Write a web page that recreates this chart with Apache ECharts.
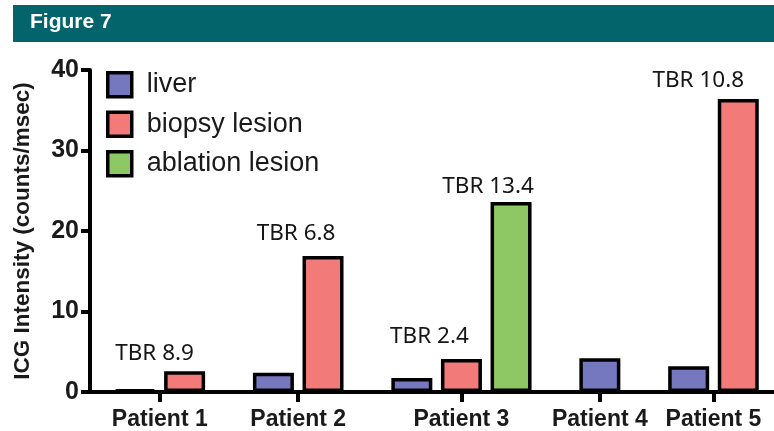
<!DOCTYPE html>
<html>
<head>
<meta charset="utf-8">
<script src="https://cdn.jsdelivr.net/npm/echarts@6/dist/echarts.min.js"></script>
<style>
  html, body { margin: 0; padding: 0; background: #fff; }
  #chart { width: 774px; height: 431px; }
</style>
</head>
<body>
<div id="chart"></div>
<script>
// ---- data ----
const patients = ['Patient 1', 'Patient 2', 'Patient 3', 'Patient 4', 'Patient 5'];
const seriesNames = ['liver', 'biopsy lesion', 'ablation lesion'];
const liver = [0.28, 2.4, 1.74, 4.2, 3.2];
const biopsy = [2.57, 16.9, 4.1, null, 36.4];
const ablation = [null, null, 23.6, null, null];
const biopsyTBR = ['8.9', '6.8', '2.4', null, '10.8'];
const ablationTBR = [null, null, '13.4', null, null];
const yTicks = [0, 10, 20, 30, 40];
const figureTitle = 'Figure 7';
const yTitle = 'ICG Intensity (counts/msec)';

// ---- layout / style ----
const colors = ['#7678bf', '#f27b79', '#8dc864'];
const GROUP_GAP = 1.79;      // distance (in bar pitches) from last bar of a group to first of next
const X_MIN = -0.907, X_MAX = 12.88;
// TBR label shift [dx px, distance px] per patient
const tbrShift = {
  biopsy: [[-30, 6], [-27, 11], [-32, 11], null, [-40, 7]],
  ablation: [null, null, [-23, 4], null, null]
};

const allValues = [liver, biopsy, ablation];
const allTBR = [null, biopsyTBR, ablationTBR];
const allShift = [null, tbrShift.biopsy, tbrShift.ablation];

// compute bar positions on the value x axis
const positions = allValues.map(() => []);
const centers = [];
let cursor = 0;
patients.forEach((p, i) => {
  const present = [];
  allValues.forEach((arr, s) => { if (arr[i] != null) present.push(s); });
  present.forEach((s, j) => { positions[s][i] = cursor + j; });
  centers.push(cursor + (present.length - 1) / 2);
  cursor += (present.length - 1) + GROUP_GAP;
});

const series = allValues.map((arr, s) => {
  const data = [];
  arr.forEach((v, i) => {
    if (v == null) return;
    const item = { value: [positions[s][i], v] };
    const tbr = allTBR[s] ? allTBR[s][i] : null;
    if (tbr != null) {
      const sh = allShift[s][i];
      item.label = {
        show: true,
        position: 'top',
        formatter: 'TBR ' + tbr,
        offset: [sh[0], 0],
        distance: sh[1],
        fontFamily: '"Noto Sans", "Open Sans", sans-serif',
        fontSize: 22.5,
        color: '#161616'
      };
    }
    data.push(item);
  });
  return {
    name: seriesNames[s],
    type: 'bar',
    data: data,
    barWidth: 41,
    barGap: '-100%',
    itemStyle: { color: colors[s], borderColor: '#000', borderWidth: 3.5 },
    emphasis: { disabled: true },
    animation: false
  };
});

const chart = echarts.init(document.getElementById('chart'), null, { renderer: 'canvas' });
chart.setOption({
  backgroundColor: '#fff',
  animation: false,
  graphic: [
    { type: 'rect', left: 13, top: 5, shape: { width: 761, height: 37 }, style: { fill: '#03646c' }, z: 0 },
    { type: 'text', left: 30, top: 12, style: { text: figureTitle, fill: '#fff', font: 'bold 21px "Liberation Sans", Arial, sans-serif' }, z: 1 }
  ],
  legend: {
    orient: 'vertical',
    left: 106,
    top: 71,
    padding: 0,
    itemWidth: 24,
    itemHeight: 24,
    itemGap: 12,
    icon: 'rect',
    selectedMode: false,
    itemStyle: { borderColor: '#000', borderWidth: 3.5 },
    textStyle: { fontFamily: '"Liberation Sans", Arial, sans-serif', fontSize: 27, color: '#1a1a1a', padding: [0, 0, 0, 10] },
    data: seriesNames
  },
  grid: { left: 90, right: 0, top: 70, bottom: 34, containLabel: false },
  xAxis: {
    type: 'value',
    min: X_MIN,
    max: X_MAX,
    splitLine: { show: false },
    axisLine: { show: true, onZero: false, lineStyle: { color: '#000', width: 4 } },
    axisTick: { show: true, customValues: centers, length: 10, inside: false, lineStyle: { color: '#000', width: 4 } },
    axisLabel: {
      customValues: centers,
      margin: 16,
      fontFamily: '"Liberation Sans", Arial, sans-serif',
      fontWeight: 'bold',
      fontSize: 23,
      color: '#1a1a1a',
      formatter: (v) => {
        const i = centers.findIndex(c => Math.abs(c - v) < 1e-6);
        return i >= 0 ? patients[i] : '';
      }
    }
  },
  yAxis: {
    type: 'value',
    min: yTicks[0],
    max: yTicks[yTicks.length - 1],
    interval: yTicks[1] - yTicks[0],
    name: yTitle,
    nameLocation: 'middle',
    nameGap: 56,
    nameTextStyle: { fontFamily: '"Liberation Sans", Arial, sans-serif', fontWeight: 'bold', fontSize: 22.5, color: '#1a1a1a' },
    splitLine: { show: false },
    axisLine: { show: true, onZero: false, lineStyle: { color: '#000', width: 4 } },
    axisTick: { show: true, length: 9, lineStyle: { color: '#000', width: 4 } },
    axisLabel: { margin: 11, fontFamily: '"Liberation Sans", Arial, sans-serif', fontWeight: 'bold', fontSize: 25, color: '#1a1a1a' }
  },
  series: series
});
</script>
</body>
</html>
